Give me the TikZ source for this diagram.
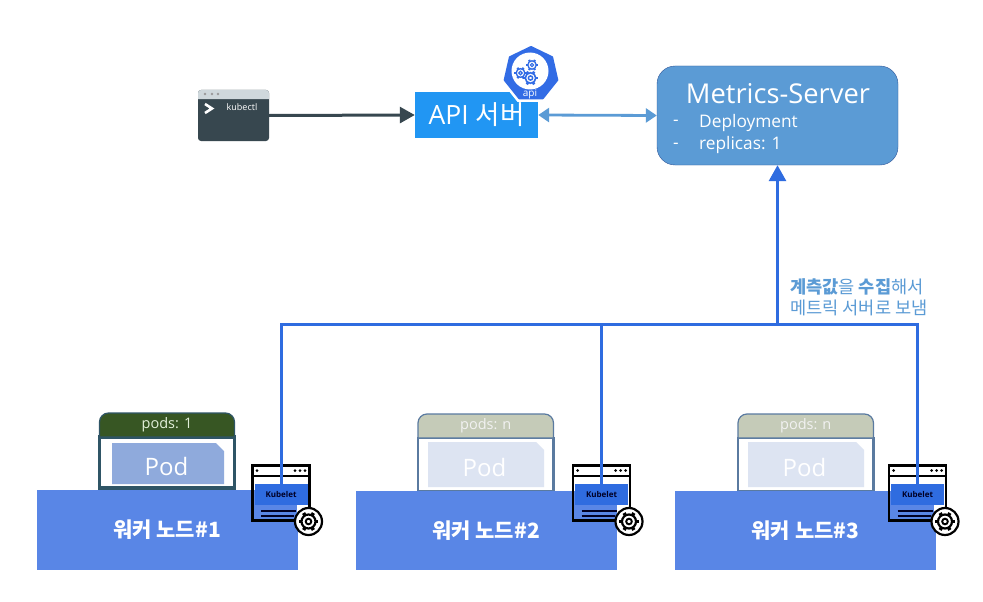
\documentclass[tikz,border=0pt]{standalone}
\usepackage{fontspec}
\setmainfont{Open Sans}
\newfontfamily\krfont{Noto Sans CJK KR}
\usepackage{tikz}
\usetikzlibrary{positioning, arrows.meta, shapes.geometric}
\definecolor{kubectlc}{HTML}{37474F}
\definecolor{kubectlbar}{HTML}{CFD8DC}
\definecolor{apic}{HTML}{2196F3}
\definecolor{metricsc}{HTML}{5B9BD5}
\definecolor{metricsb}{HTML}{2F5597}
\definecolor{busc}{HTML}{2F6CE0}
\definecolor{workerc}{HTML}{5986E6}
\definecolor{k8sc}{HTML}{326CE5}
\newcommand{\fs}[1]{\fontsize{#1}{#1}\selectfont}
\tikzset{
	solidbox/.style={rectangle, inner sep=0pt, text=white},
	workerbox/.style={solidbox, fill=workerc, minimum width=261, minimum height=80, font=\krfont\bfseries\fs{21}},
	kubeletband/.style={rectangle, inner sep=0pt, fill=busc, minimum width=53, minimum height=21, text=black!85!blue, font=\bfseries\fs{8}},
	buswire/.style={draw=busc, line width=3},
	gearicon/.pic={
		\foreach \a in {0,60,...,300} \draw[pic actions, line width=3.4*#1, line cap=butt] (\a:6.6*#1) -- (\a:9.8*#1);
		\draw[pic actions, line width=2.2*#1] (0,0) circle (7*#1);
		\draw[pic actions, line width=1.9*#1] (0,0) circle (2.8*#1);
	}
}
\begin{document}
\begin{tikzpicture}[x=1pt, y=-1pt]
	\useasboundingbox[fill=white] (0,0) rectangle (983,602);

	\node[solidbox, fill=kubectlc, rounded corners=3, minimum width=71, minimum height=51] (kubectl) at (233.5,115.5) {};
	\fill[kubectlbar, rounded corners=3] (198,99) -- (198,90) -- (269,90) [sharp corners] -- (269,99) -- cycle;
	\foreach \x in {205,212,218} \fill[black!40] (\x,94) circle (1.3);
	\draw[white, line width=2.6, line join=miter] (205,104) -- (212,108.5) -- (205,113);
	\node[text=white, font=\fs{9}] (kubectl-label) at (242,107.5) {kubectl};

	\node[solidbox, fill=apic, minimum width=123, minimum height=46, font=\fs{26.5}] (apiserver) at (476.5,115) {API {\krfont 서버}};
	\node[regular polygon, regular polygon sides=7, fill=white, inner sep=0pt, minimum size=62] (api-halo) at (531,74) {};
	\node[regular polygon, regular polygon sides=7, fill=k8sc, draw=k8sc, line width=2, line join=round, inner sep=0pt, minimum size=54] (api-icon) at (531,74) {};
	\node[circle, fill=white, inner sep=0pt, minimum size=37] (api-disc) at (530,71) {};
	\pic[draw=k8sc] at (520.5,73) {gearicon=0.62};
	\pic[draw=k8sc] at (532,65) {gearicon=0.6};
	\pic[draw=k8sc] at (530.5,78) {gearicon=0.75};
	\node[text=white, font=\fs{10}] (api-label) at (530,94) {api};

	\node[solidbox, fill=metricsc, draw=metricsb, rounded corners=18, minimum width=241, minimum height=99] (metrics) at (777.5,115.5) {};
	\node[text=white, font=\fs{27.3}] (metrics-title) at (778,94) {Metrics-Server};
	\node[text=white, font=\fs{17.3}, anchor=west, inner sep=0pt] (metrics-item1) at (699,123) {Deployment};
	\node[text=white, font=\fs{17.3}, anchor=west, inner sep=0pt] (metrics-item2) at (699,145.5) {replicas: 1};
	\node[text=white, font=\fs{17.3}, left=20pt of metrics-item1.west, inner sep=0pt] (metrics-dash1) {-};
	\node[text=white, font=\fs{17.3}, left=20pt of metrics-item2.west, inner sep=0pt] (metrics-dash2) {-};

	\draw[kubectlc, line width=3, -{Triangle[length=15,width=16]}] (kubectl.east) -- (apiserver.west);
	\draw[metricsc, line width=2.8, {Triangle[length=11,width=14]}-{Triangle[length=11,width=14]}] (apiserver.east) -- (metrics.west);

	% pods
	\foreach \i/\xa/\xb/\ya/\yb/\yc/\hdc/\hdt/\frc/\frw/\ptxt/\podc/\pa/\pb/\pc/\pd in {
		1/99.5/234.5/413/437/488/375623/E2F0D9/2F5566/3.2/pods: 1/8FAADC/112/224/443/484,
		2/418/553.5/414/438/491/C5CBB8/F2F2F2/5A7AA0/2.4/pods: n/DDE4F2/428/544/442/487,
		3/738/873.5/414/438/491/C5CBB8/F2F2F2/5A7AA0/2.4/pods: n/DDE4F2/748/864/442/487} {
		\definecolor{hdfill}{HTML}{\hdc}
		\definecolor{hdtext}{HTML}{\hdt}
		\definecolor{frline}{HTML}{\frc}
		\definecolor{podfill}{HTML}{\podc}
		\draw[frline, line width=\frw] (\xa,\yb) rectangle (\xb,\yc);
		\draw[frline, fill=hdfill, line width=1.2, rounded corners=9] (\xa,\yb) -- (\xa,\ya) -- (\xb,\ya) [sharp corners] -- (\xb,\yb) -- cycle;
		\node[text=hdtext, font=\fs{14.5}] (pods\i) at ({(\xa+\xb)/2},{(\ya+\yb)/2}) {\ptxt};
		\fill[podfill] (\pa,\pc) -- ({\pb-8},\pc) -- (\pb,{\pc+8}) -- (\pb,\pd) -- (\pa,\pd) -- cycle;
		\node[text=white, font=\fs{24}] (pod\i) at ({(\pa+\pb)/2-1.5},{(\pc+\pd)/2+2.5}) {Pod};
	}

	% worker nodes
	\node[workerbox] (worker1) at (167,529.5) {워커 노드\#1};
	\node[workerbox, minimum height=79] (worker2) at (486,530.5) {워커 노드\#2};
	\node[workerbox, minimum height=79] (worker3) at (805.5,530.5) {워커 노드\#3};

	% kubelet windows
	\foreach \i/\x in {1/281, 2/601.5, 3/917.5} {
		\node[kubeletband] (kubelet\i) at (\x,494.5) {Kubelet};
		\draw[black, line width=2.4] ({\x-28.5},465.5) rectangle ({\x+28.5},520.5);
		\draw[black, line width=2.2] ({\x-28.5},476) -- ({\x+28.5},476);
		\fill[white] ({\x+16},505) rectangle ({\x+27.3},519.3);
		\fill[black] ({\x-24},470.5) circle (1.5);
		\foreach \d in {14,19,24} \fill[black] ({\x+\d},470.5) circle (1.5);
		\draw[black!85!blue, line width=1.8] ({\x-20},511) -- ({\x+15},511);
		\draw[black!85!blue, line width=1.8] ({\x-20},516) -- ({\x+13},516);
		\node[circle, fill=white, draw=black, line width=2.2, inner sep=0pt, minimum size=27] (kubelet\i-gear) at ({\x+27.5},521.5) {};
		\pic[draw=black] at (kubelet\i-gear) {gearicon=1};
	}

	\coordinate (bus) at (metrics.south |- 0,324);
	\draw[buswire] (kubelet1.north) |- (bus);
	\draw[buswire] (kubelet3.north) |- (bus);
	\draw[buswire] (kubelet2.north) -- (kubelet2.north |- bus);
	\draw[buswire, -{Triangle[length=16,width=17]}] (bus) -- (metrics.south);

	\node[anchor=west, inner sep=0pt, text=metricsc, font=\krfont\fs{17.6}] (bus-label1) at (790,287) {\textbf{계측값}을 \textbf{수집}해서};
	\node[anchor=west, inner sep=0pt, text=metricsc, font=\krfont\fs{17.6}] (bus-label2) at (790,308) {메트릭 서버로 보냄};
\end{tikzpicture}
\end{document}
